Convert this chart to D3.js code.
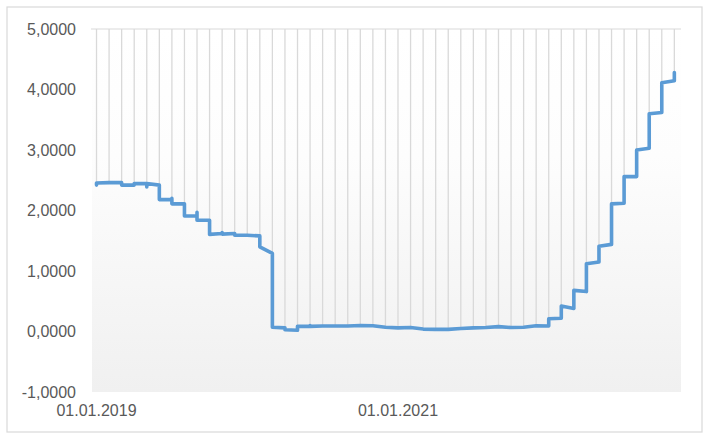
<!DOCTYPE html>
<html>
<head>
<meta charset="utf-8">
<script src="https://cdn.jsdelivr.net/npm/d3@7"></script>
<style>
  html, body { margin: 0; padding: 0; background: #ffffff; }
  svg { display: block; }
  text { font-family: "Liberation Sans", Arial, sans-serif; fill: #595959; }
</style>
</head>
<body>
<svg id="chart" width="712" height="439"></svg>
<script>
// ---- data (monthly positions, Jan 2019 .. Nov 2022) ----
const months = [
  "01.2019","02.2019","03.2019","04.2019","05.2019","06.2019","07.2019","08.2019","09.2019","10.2019","11.2019","12.2019",
  "01.2020","02.2020","03.2020","04.2020","05.2020","06.2020","07.2020","08.2020","09.2020","10.2020","11.2020","12.2020",
  "01.2021","02.2021","03.2021","04.2021","05.2021","06.2021","07.2021","08.2021","09.2021","10.2021","11.2021","12.2021",
  "01.2022","02.2022","03.2022","04.2022","05.2022","06.2022","07.2022","08.2022","09.2022","10.2022","11.2022"
];
// first value within each month
const firstVals = [2.42,2.46,2.46,2.42,2.445,2.42,2.18,2.11,1.91,1.84,1.62,1.62,
  1.59,1.58,1.29,0.06,0.02,0.085,0.09,0.09,0.09,0.10,0.095,0.07,
  0.06,0.065,0.04,0.035,0.035,0.05,0.06,0.065,0.08,0.065,0.07,0.095,
  0.09,0.22,0.38,0.66,1.15,1.44,2.12,2.56,3.03,3.62,4.145];
// intra-month extreme (null = none)
const midVals = [null,null,null,null,2.39,null,2.20,null,1.97,null,1.635,null,
  null,null,null,null,null,0.10,null,null,null,null,null,null,
  null,null,null,null,null,null,null,null,null,null,null,null,
  null,null,null,null,null,null,null,null,null,null,null];
// last value within each month
const lastVals = [2.455,2.46,2.42,2.445,2.445,2.18,2.11,1.91,1.84,1.605,1.61,1.59,
  1.59,1.40,0.07,0.03,0.085,0.085,0.09,0.09,0.09,0.10,0.095,0.07,
  0.06,0.065,0.04,0.035,0.035,0.05,0.06,0.065,0.08,0.065,0.07,0.095,
  0.21,0.42,0.68,1.12,1.41,2.11,2.56,3.00,3.60,4.11,4.28];
const yTicks = [-1,0,1,2,3,4,5];
const xTickIdx = [0, 24];
const xTickLabels = ["01.01.2019", "01.01.2021"];

// ---- layout ----
const svg = d3.select("#chart");
const plot = {left: 92, right: 681, top: 29, bottom: 392};

const x = d3.scaleLinear().domain([-0.36, 46.53]).range([plot.left, plot.right]);
const y = d3.scaleLinear().domain([-1, 5]).range([plot.bottom, plot.top]);

// outer border
svg.append("rect")
  .attr("x", 7).attr("y", 7).attr("width", 695).attr("height", 425)
  .attr("fill", "#ffffff").attr("stroke", "#d9d9d9").attr("stroke-width", 1.2);

// gradient background of plot area
const defs = svg.append("defs");
const grad = defs.append("linearGradient").attr("id", "bg")
  .attr("x1", 0).attr("y1", 0).attr("x2", 0).attr("y2", 1);
grad.append("stop").attr("offset", "0%").attr("stop-color", "#ffffff");
grad.append("stop").attr("offset", "35%").attr("stop-color", "#fdfdfd");
grad.append("stop").attr("offset", "100%").attr("stop-color", "#f0f0f0");

svg.append("rect")
  .attr("x", plot.left).attr("y", plot.top)
  .attr("width", plot.right - plot.left).attr("height", plot.bottom - plot.top)
  .attr("fill", "url(#bg)");

// top line at max value
svg.append("line")
  .attr("x1", plot.left - 1).attr("x2", plot.right)
  .attr("y1", y(5)).attr("y2", y(5))
  .attr("stroke", "#d9d9d9").attr("stroke-width", 1.2);

// vertical lines from top down to the series
const topVals = months.map((m, i) => d3.max([firstVals[i], midVals[i], lastVals[i]].filter(v => v != null)));
svg.append("g").selectAll("line").data(months).join("line")
  .attr("x1", (d, i) => x(i)).attr("x2", (d, i) => x(i))
  .attr("y1", y(5)).attr("y2", (d, i) => y(topVals[i]))
  .attr("stroke", "#d9d9d9").attr("stroke-width", 1.3);

// series path
const pts = [];
months.forEach((m, i) => {
  pts.push([i, firstVals[i]]);
  if (midVals[i] != null) pts.push([i, midVals[i]]);
  pts.push([i, lastVals[i]]);
});
const line = d3.line().x(d => x(d[0])).y(d => y(d[1]));
svg.append("path")
  .attr("d", line(pts))
  .attr("fill", "none")
  .attr("stroke", "#5b9bd5")
  .attr("stroke-width", 3.6)
  .attr("stroke-linejoin", "round")
  .attr("stroke-linecap", "round");

// y axis labels
const fmt = v => d3.format(".4f")(v).replace(".", ",").replace("−", "-");
svg.append("g").selectAll("text").data(yTicks).join("text")
  .attr("x", 76).attr("y", d => y(d))
  .attr("dy", "0.35em")
  .attr("text-anchor", "end")
  .attr("font-size", 16)
  .text(d => fmt(d));

// x axis labels
svg.append("g").selectAll("text").data(xTickIdx).join("text")
  .attr("x", d => x(d)).attr("y", 416)
  .attr("text-anchor", "middle")
  .attr("font-size", 16)
  .text((d, i) => xTickLabels[i]);
</script>
</body>
</html>
